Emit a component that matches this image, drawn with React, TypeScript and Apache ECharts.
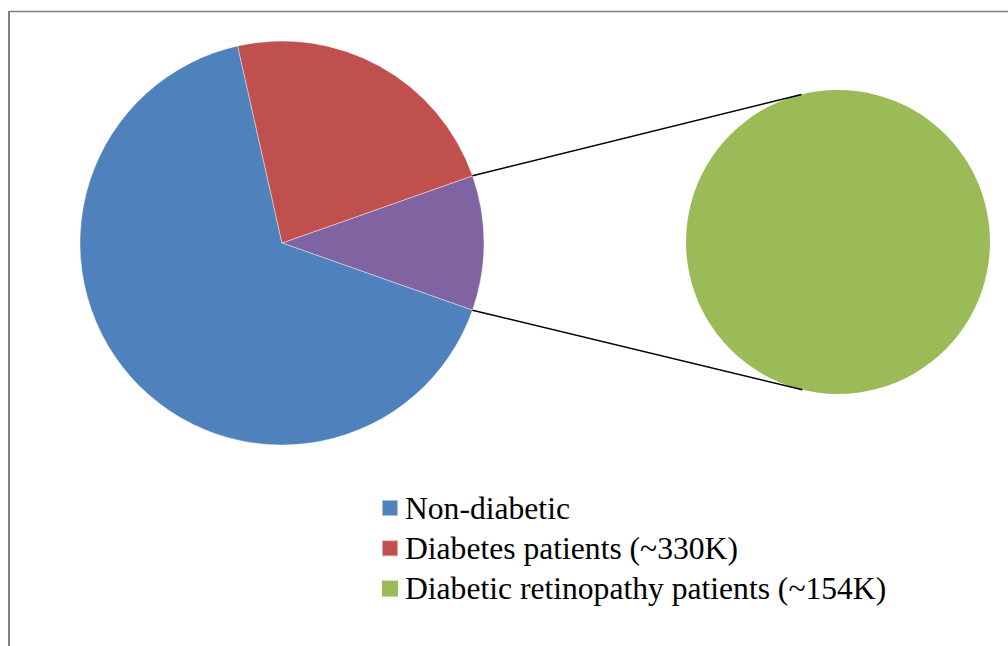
import React, { useEffect, useRef } from "react";
import * as echarts from "echarts";

const categories = ["Non-diabetic", "Diabetes patients (~330K)", "Diabetic retinopathy patients (~154K)"];
const values = [943, 330, 154];
const colors = ["#4F81BD", "#C0504D", "#9BBB59"];
const otherColor = "#8064A2";

export default function App() {
  const ref = useRef<HTMLDivElement>(null);
  useEffect(() => {
    if (!ref.current) return;
    const chart = echarts.init(ref.current, undefined, { renderer: "svg" });
    const total = values[0] + values[1] + values[2];
    const otherSpan = (360 * values[2]) / total;
    const startAngle = otherSpan / 2;

    const c1 = [282, 243];
    const r1 = 202;
    const c2 = [838, 242];
    const r2 = 152;

    const edge = (deg: number) => {
      const a = (deg * Math.PI) / 180;
      return [c1[0] + r1 * Math.cos(a), c1[1] - r1 * Math.sin(a)];
    };
    const tangent = (p: number[], sign: number) => {
      const vx = p[0] - c2[0];
      const vy = p[1] - c2[1];
      const d = Math.sqrt(vx * vx + vy * vy);
      const alpha = Math.acos(r2 / d);
      const ang = Math.atan2(vy, vx) + sign * alpha;
      return [c2[0] + r2 * Math.cos(ang), c2[1] + r2 * Math.sin(ang)];
    };
    const pTop = edge(startAngle);
    const pBot = edge(-startAngle);
    const tTop = tangent(pTop, 1);
    const tBot = tangent(pBot, -1);

    chart.setOption({
      animation: false,
      textStyle: { fontFamily: "Liberation Serif" },
      legend: {
        orient: "vertical",
        left: 381,
        top: 492,
        padding: 0,
        itemWidth: 16,
        itemHeight: 16,
        itemGap: 8.3,
        icon: "rect",
        data: categories,
        selectedMode: false,
        formatter: (name: string) => "{t|" + name + "}",
        textStyle: {
          fontFamily: "Liberation Serif",
          fontSize: 31.6,
          color: "#000",
          rich: {
            t: {
              fontFamily: "Liberation Serif",
              fontSize: 31.6,
              lineHeight: 31,
              color: "#000",
              padding: [0, 0, 0, 2],
            },
          },
        },
      },
      graphic: [
        { type: "line", shape: { x1: 9, y1: 11.5, x2: 1010, y2: 11.5 }, style: { stroke: "#808080", lineWidth: 1.5 } },
        { type: "line", shape: { x1: 9, y1: 11, x2: 9, y2: 650 }, style: { stroke: "#808080", lineWidth: 2 } },
        { type: "line", z: 10, shape: { x1: pTop[0], y1: pTop[1], x2: tTop[0], y2: tTop[1] }, style: { stroke: "#000", lineWidth: 1.6 } },
        { type: "line", z: 10, shape: { x1: pBot[0], y1: pBot[1], x2: tBot[0], y2: tBot[1] }, style: { stroke: "#000", lineWidth: 1.6 } },
      ],
      series: [
        {
          type: "pie",
          center: c1,
          radius: r1,
          startAngle,
          clockwise: true,
          label: { show: false },
          labelLine: { show: false },
          emphasis: { disabled: true },
          itemStyle: { borderColor: "rgba(255,255,255,0.5)", borderWidth: 0.8 },
          data: [
            { name: "Other", value: values[2], itemStyle: { color: otherColor } },
            { name: categories[0], value: values[0], itemStyle: { color: colors[0] } },
            { name: categories[1], value: values[1], itemStyle: { color: colors[1] } },
          ],
        },
        {
          type: "pie",
          center: c2,
          radius: r2,
          label: { show: false },
          labelLine: { show: false },
          emphasis: { disabled: true },
          data: [{ name: categories[2], value: values[2], itemStyle: { color: colors[2] } }],
        },
      ],
    });
    return () => chart.dispose();
  }, []);
  return <div ref={ref} style={{ position: "absolute", left: 0, top: 0, width: 1008, height: 646, background: "#fff" }} />;
}
